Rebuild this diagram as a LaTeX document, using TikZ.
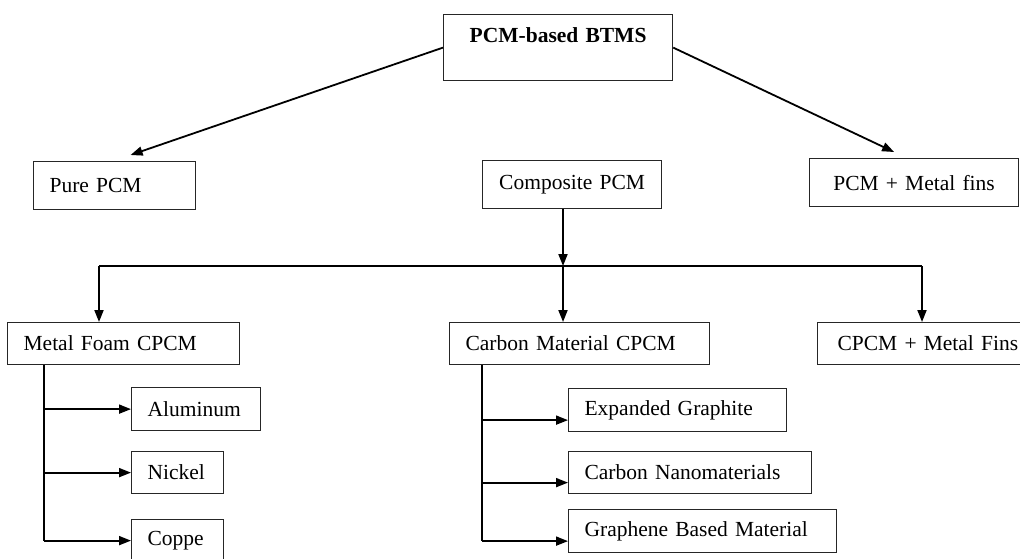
\documentclass[tikz,border=0pt]{standalone}
\usepackage{fontspec}
\setmainfont{Liberation Serif}
\usetikzlibrary{arrows.meta, positioning, calc}

\begin{document}
\begin{tikzpicture}[x=1pt, y=-1pt,
  box/.style={draw=black!85, line width=1.2pt, anchor=north west, inner xsep=16pt, inner ysep=0pt, align=left, font=\fontsize{21.5}{25}\selectfont},
  conn/.style={line width=1.8pt, -{Triangle[length=12pt, width=9pt]}},
  trunk/.style={line width=1.2pt}]
  \useasboundingbox (0,0) rectangle (1020,558);

  % Top level
  \node[box, font=\fontsize{21.5}{25}\selectfont\bfseries, text width=197pt, align=center, text height=28pt, text depth=38pt] (btms) at (443,14) {PCM-based BTMS};

  % First level
  \node[box, text width=130pt, minimum height=48pt] (pure) at (33,161) {Pure PCM};
  \node[box, inner xsep=10pt, text width=159pt, minimum height=48pt, align=center] (comp) at (482,160) {Composite PCM};
  \node[box, text width=177pt, minimum height=48pt, align=center] (fins) at (809,158) {PCM + Metal fins};

  \draw[conn] (btms.west) -- ([xshift=16pt, yshift=6pt]pure.north);
  \draw[conn] (btms.east) -- ([xshift=-20pt, yshift=6pt]fins.north);

  % Composite PCM branches
  \node[box, text width=200pt, minimum height=42pt] (foam) at (7,322) {Metal Foam CPCM};
  \node[box, text width=228pt, minimum height=42pt] (carbon) at (449,322) {Carbon Material CPCM};
  \node[box, inner xsep=20pt, text width=190pt, minimum height=42pt] (cfins) at (817,322) {CPCM + Metal Fins};

  \coordinate (bl) at (99,266);
  \coordinate (bm) at (563,266);
  \coordinate (br) at (922,266);
  \draw[conn] (bm |- comp.south) -- (bm);
  \draw[trunk] (bl) -- (br);
  \draw[conn] (bl) -- (bl |- foam.north);
  \draw[conn] (bm) -- (bm |- carbon.north);
  \draw[conn] (br) -- (br |- cfins.north);

  % Metal foams
  \node[box, text width=97pt, minimum height=43pt] (alu) at (131,387) {Aluminum};
  \node[box, text width=60pt, minimum height=42pt] (nick) at (131,451) {Nickel};
  \node[box, text width=60pt, minimum height=42pt] (cop) at (131,519) {Coppe};

  \coordinate (ft) at ([xshift=37pt]foam.south west);
  \draw[trunk] (ft) -- (ft |- cop.west);
  \draw[conn] (ft |- alu.west) -- (alu.west);
  \draw[conn] (ft |- nick.west) -- (nick.west);
  \draw[conn] (ft |- cop.west) -- (cop.west);

  % Carbon materials
  \node[box, text width=186pt, minimum height=43pt] (exp) at (568,388) {Expanded Graphite};
  \node[box, text width=211pt, minimum height=42pt] (nano) at (568,451) {Carbon Nanomaterials};
  \node[box, text width=236pt, minimum height=43pt] (graph) at (568,509) {Graphene Based Material};

  \coordinate (ct) at ([xshift=33pt]carbon.south west);
  \draw[trunk] (ct) -- ([yshift=-10pt]graph.west -| ct);
  \draw[conn] ([yshift=-10pt]exp.west -| ct) -- ([yshift=-10pt]exp.west);
  \draw[conn] ([yshift=-10pt]nano.west -| ct) -- ([yshift=-10pt]nano.west);
  \draw[conn] ([yshift=-10pt]graph.west -| ct) -- ([yshift=-10pt]graph.west);
\end{tikzpicture}
\end{document}
